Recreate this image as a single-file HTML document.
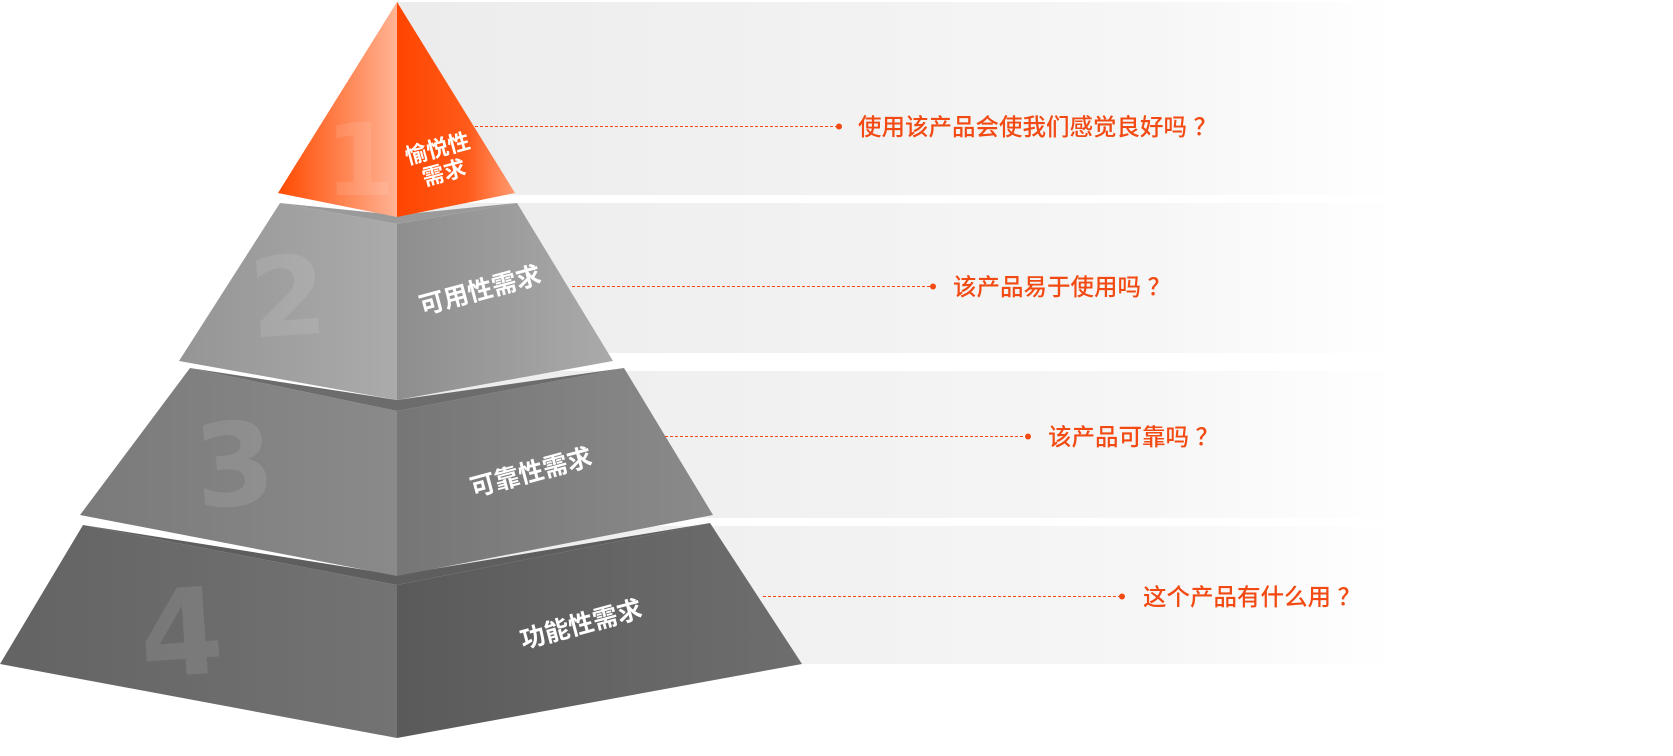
<!DOCTYPE html>
<html><head><meta charset="utf-8"><style>
html,body{margin:0;padding:0;background:#fff;}
svg{display:block;}
.q{font-family:"Liberation Sans","Noto Sans CJK SC",sans-serif;font-size:23.5px;font-weight:500;fill:#f24a12;}
.l{font-family:"Liberation Sans","Noto Sans CJK SC",sans-serif;font-weight:bold;fill:#fff;}
.n{font-family:"DejaVu Sans",sans-serif;font-weight:bold;fill:#fff;fill-opacity:0.1;}
</style></head><body>
<svg width="1673" height="756" viewBox="0 0 1673 756" xmlns="http://www.w3.org/2000/svg">
<defs>
<linearGradient id="band" x1="0" x2="1" y1="0" y2="0">
<stop offset="0" stop-color="#ececec"/><stop offset="0.75" stop-color="#f6f6f6"/><stop offset="1" stop-color="#ffffff"/>
</linearGradient>
<linearGradient id="o1" x1="0" x2="1"><stop offset="0" stop-color="#ff4a00"/><stop offset="1" stop-color="#ffb394"/></linearGradient>
<linearGradient id="o2" x1="0" x2="1"><stop offset="0" stop-color="#ff4500"/><stop offset="0.6" stop-color="#ff5a1a"/><stop offset="1" stop-color="#ff9a70"/></linearGradient>
<linearGradient id="g2l" x1="0" x2="1"><stop offset="0" stop-color="#959595"/><stop offset="1" stop-color="#ababab"/></linearGradient>
<linearGradient id="g2r" x1="0" x2="1"><stop offset="0" stop-color="#8e8e8e"/><stop offset="1" stop-color="#aaaaaa"/></linearGradient>
<linearGradient id="g3l" x1="0" x2="1"><stop offset="0" stop-color="#7a7a7a"/><stop offset="1" stop-color="#8a8a8a"/></linearGradient>
<linearGradient id="g3r" x1="0" x2="1"><stop offset="0" stop-color="#767676"/><stop offset="1" stop-color="#8a8a8a"/></linearGradient>
<linearGradient id="g4l" x1="0" x2="1"><stop offset="0" stop-color="#636363"/><stop offset="1" stop-color="#737373"/></linearGradient>
<linearGradient id="g4r" x1="0" x2="1"><stop offset="0" stop-color="#5a5a5a"/><stop offset="1" stop-color="#6e6e6e"/></linearGradient>
</defs>
<rect x="397" y="2" width="1000" height="193" fill="url(#band)"/>
<rect x="397" y="203" width="1000" height="150" fill="url(#band)"/>
<rect x="397" y="371" width="1000" height="147" fill="url(#band)"/>
<rect x="397" y="526" width="1000" height="138" fill="url(#band)"/>

<polygon points="83,525 397,585 397,738 0,664" fill="url(#g4l)"/>
<polygon points="397,585 710,523 802,664 397,738" fill="url(#g4r)"/>
<polygon points="83,525 397,585 710,523 397,575" fill="#5e5e5e"/>
<polygon points="190,368 397,411 397,576 80,515" fill="url(#g3l)"/>
<polygon points="397,411 624,368 713,515 397,576" fill="url(#g3r)"/>
<polygon points="190,368 397,411 624,368 397,400" fill="#6c6c6c"/>
<polygon points="280,203 397,224 397,400 179,361" fill="url(#g2l)"/>
<polygon points="397,224 517,203 613,361 397,400" fill="url(#g2r)"/>
<polygon points="280,203 397,224 517,203 397,215" fill="#9a9a9a"/>
<polygon points="397,2 397,217 278,193" fill="url(#o1)"/>
<polygon points="397,2 515,193 397,217" fill="url(#o2)"/>

<text class="n" x="325" y="195" font-size="100">1</text>
<text class="n" x="250" y="335" font-size="110" transform="rotate(-4 290 300)">2</text>
<text class="n" x="195" y="505" font-size="115" transform="rotate(-4 235 470)">3</text>
<text class="n" x="140" y="675" font-size="120" transform="rotate(-4 180 640)">4</text>

<g transform="rotate(-15 440 158)">
<text class="l" x="440" y="156" font-size="22" text-anchor="middle">愉悦性</text>
<text class="l" x="440" y="181" font-size="22" text-anchor="middle">需求</text>
</g>
<text class="l" x="480" y="299" font-size="25" text-anchor="middle" transform="rotate(-15 480 290)">可用性需求</text>
<text class="l" x="531" y="481" font-size="25" text-anchor="middle" transform="rotate(-15 531 472)">可靠性需求</text>
<text class="l" x="581" y="633" font-size="25" text-anchor="middle" transform="rotate(-15 581 624)">功能性需求</text>

<g stroke="#f24a12" stroke-width="1" stroke-dasharray="3,2" fill="none">
<line x1="475" y1="126.5" x2="839" y2="126.5"/>
<line x1="572" y1="286.5" x2="933" y2="286.5"/>
<line x1="665" y1="436.5" x2="1028" y2="436.5"/>
<line x1="763" y1="596.5" x2="1122" y2="596.5"/>
</g>
<g fill="#f24a12">
<circle cx="839" cy="126.5" r="3"/>
<circle cx="933" cy="286.5" r="3"/>
<circle cx="1028" cy="436.5" r="3"/>
<circle cx="1122" cy="596.5" r="3"/>
</g>
<text class="q" x="858" y="135">使用该产品会使我们感觉良好吗 ？</text>
<text class="q" x="953" y="295">该产品易于使用吗 ？</text>
<text class="q" x="1048" y="445">该产品可靠吗 ？</text>
<text class="q" x="1143" y="605">这个产品有什么用 ？</text>
</svg>
</body></html>
